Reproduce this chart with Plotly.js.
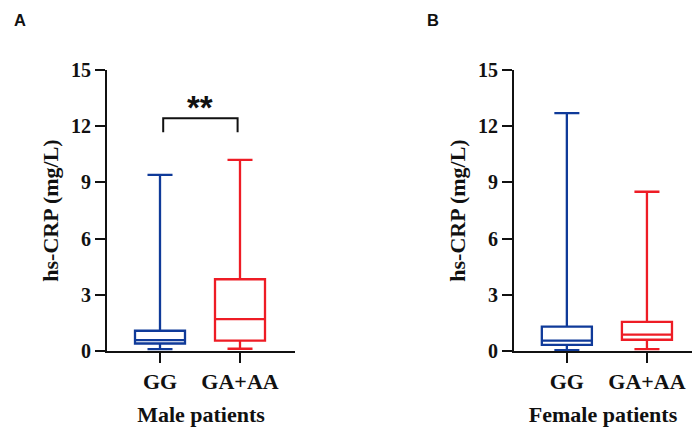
<!DOCTYPE html>
<html>
<head>
<meta charset="utf-8">
<script src="https://cdn.plot.ly/plotly-3.0.1.min.js"></script>
<style>html,body{margin:0;padding:0;background:#fff;}#chart{width:692px;height:427px;}</style>
</head>
<body>
<div id="chart"></div>
<script>
// Categories
var genotypes = ['GG', 'GA+AA'];
var seriesColors = ['#0F3A99', '#EE1C25'];

// Male patients: box statistics per genotype
var maleLower  = [0.10, 0.12];
var maleQ1     = [0.40, 0.55];
var maleMedian = [0.58, 1.70];
var maleQ3     = [1.08, 3.83];
var maleUpper  = [9.40, 10.20];

// Female patients: box statistics per genotype
var femaleLower  = [0.05, 0.10];
var femaleQ1     = [0.33, 0.60];
var femaleMedian = [0.55, 0.87];
var femaleQ3     = [1.30, 1.55];
var femaleUpper  = [12.70, 8.50];

// Axis ticks
var yTickVals = [0, 3, 6, 9, 12, 15];
var panelLabels = ['A', 'B'];
var panelTitles = ['Male patients', 'Female patients'];
var yTitle = 'hs-CRP (mg/L)';

// Significance (male panel)
var sigText = '**';
var sigBracketTop = 12.42;
var sigBracketBottom = 11.68;

var serif = 'Liberation Serif, Times New Roman, serif';
var sans = 'Liberation Sans, Arial, sans-serif';

var traces = [];
function addBoxes(lower, q1, med, q3, upper, xa, ya) {
  for (var i = 0; i < genotypes.length; i++) {
    traces.push({
      type: 'box',
      x: [genotypes[i]],
      lowerfence: [lower[i]],
      q1: [q1[i]],
      median: [med[i]],
      q3: [q3[i]],
      upperfence: [upper[i]],
      xaxis: xa, yaxis: ya,
      width: 0.625,
      whiskerwidth: 0.5,
      fillcolor: 'rgba(0,0,0,0)',
      line: {color: seriesColors[i], width: 2.3},
      boxpoints: false,
      showlegend: false,
      hoverinfo: 'skip'
    });
  }
}
addBoxes(maleLower, maleQ1, maleMedian, maleQ3, maleUpper, 'x', 'y');
addBoxes(femaleLower, femaleQ1, femaleMedian, femaleQ3, femaleUpper, 'x2', 'y2');

var W = 692, H = 427;
var yDom = [1 - 351 / H, 1 - 70 / H];

function xAxis(domain, range, title) {
  return {
    domain: domain, range: range, type: 'category',
    showline: true, linecolor: '#111', linewidth: 2,
    ticks: 'outside', ticklen: 10, tickwidth: 2, tickcolor: '#111',
    showgrid: false, zeroline: false, fixedrange: true,
    tickfont: {family: serif, size: 22, color: '#111', weight: 'bold'},
    title: {text: title, font: {family: serif, size: 22, color: '#111', weight: 'bold'}, standoff: 16}
  };
}
function yAxis(anchor) {
  return {
    domain: yDom, range: [0, 15], anchor: anchor,
    tickvals: yTickVals,
    showline: true, linecolor: '#111', linewidth: 2,
    ticks: 'outside', ticklen: 10, tickwidth: 2, tickcolor: '#111',
    showgrid: false, zeroline: false, fixedrange: true,
    tickfont: {family: serif, size: 20, color: '#111', weight: 'bold'},
    title: {text: yTitle, font: {family: serif, size: 22, color: '#111', weight: 'bold'}, standoff: 6}
  };
}

var layout = {
  width: W, height: H,
  margin: {l: 0, r: 0, t: 0, b: 0},
  paper_bgcolor: '#fff', plot_bgcolor: 'rgba(0,0,0,0)',
  boxmode: 'overlay',
  showlegend: false,
  xaxis: xAxis([107 / W, 295 / W], [-0.6625, 1.6875], panelTitles[0]),
  yaxis: yAxis('x'),
  xaxis2: xAxis([514 / W, 1], [-0.66, 1.5625], panelTitles[1]),
  yaxis2: yAxis('x2'),
  shapes: [{
    type: 'path', xref: 'x', yref: 'y',
    path: 'M 0.04,' + sigBracketBottom + ' L 0.04,' + sigBracketTop + ' L 0.97,' + sigBracketTop + ' L 0.97,' + sigBracketBottom,
    line: {color: '#111', width: 2}
  }],
  annotations: [
    {text: sigText, xref: 'x', yref: 'y', x: 0.5, y: sigBracketTop - 0.5, yanchor: 'bottom', showarrow: false,
     font: {family: sans, size: 33, color: '#111', weight: 'bold'}},
    {text: panelLabels[0], xref: 'paper', yref: 'paper', x: 19.5 / W, y: 1 - 19.5 / H, xanchor: 'center', yanchor: 'middle', showarrow: false,
     font: {family: sans, size: 16.5, color: '#111', weight: 'bold'}},
    {text: panelLabels[1], xref: 'paper', yref: 'paper', x: 433 / W, y: 1 - 20.5 / H, xanchor: 'center', yanchor: 'middle', showarrow: false,
     font: {family: sans, size: 16.5, color: '#111', weight: 'bold'}}
  ]
};

Plotly.newPlot('chart', traces, layout, {staticPlot: true, displayModeBar: false});
</script>
</body>
</html>
